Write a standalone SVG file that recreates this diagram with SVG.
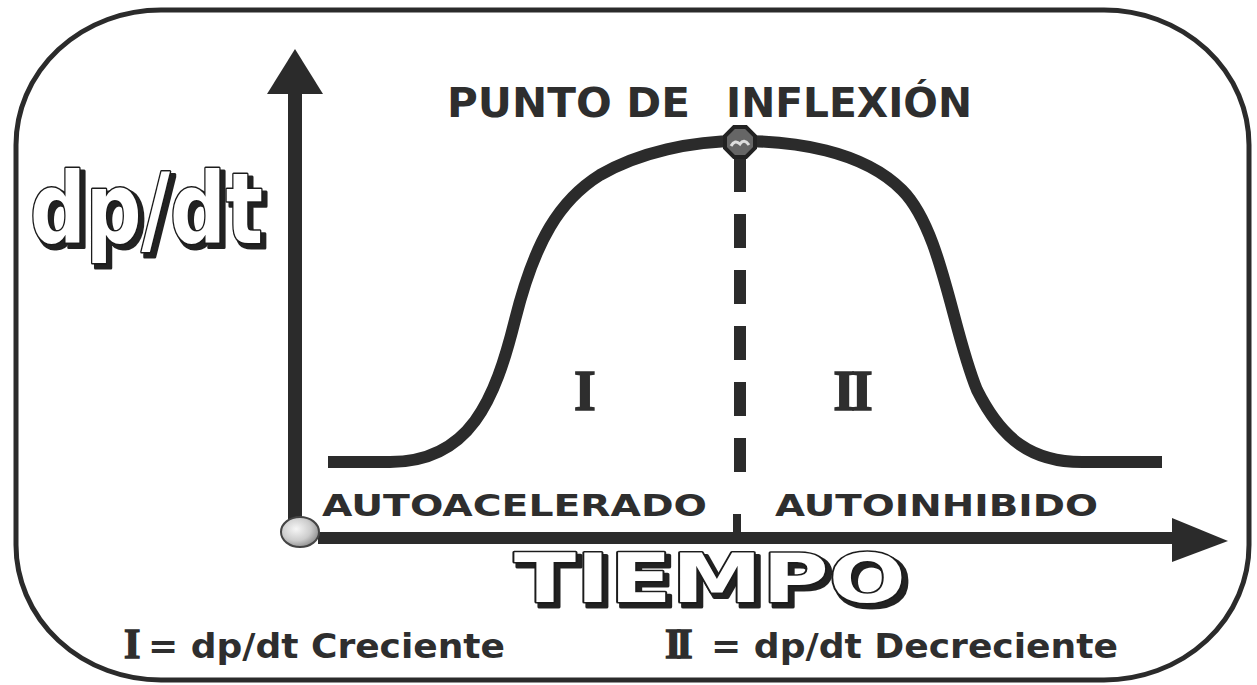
<svg xmlns="http://www.w3.org/2000/svg" width="1257" height="685" viewBox="0 0 1257 685">
<defs>
<style>
.ink{fill:#2b2b2b}
.line{stroke:#2b2b2b;fill:none}
.lbl{font-family:"DejaVu Sans",Verdana,sans-serif;font-weight:bold;fill:#2e2e2e}
.roman{font-family:"Liberation Serif","DejaVu Serif",serif;font-weight:bold;fill:#2e2e2e;stroke:#2e2e2e;stroke-width:1.5}
.big{font-family:"DejaVu Sans Condensed","Liberation Sans",sans-serif;font-weight:bold}
.wide{font-family:"DejaVu Sans","Liberation Sans",sans-serif;font-weight:bold}
.outl{fill:#fff;stroke:#1a1a1a;stroke-width:3;stroke-linejoin:round;paint-order:stroke;filter:url(#shadow)}
</style>
<filter id="shadow" x="-10%" y="-10%" width="130%" height="140%">
<feOffset in="SourceAlpha" dx="4" dy="4" result="off"/>
<feMorphology in="off" operator="dilate" radius="1" result="dil"/>
<feFlood flood-color="#222"/>
<feComposite in2="dil" operator="in" result="sh"/>
<feMerge><feMergeNode in="sh"/><feMergeNode in="SourceGraphic"/></feMerge>
</filter>
<radialGradient id="ball" cx="40%" cy="40%" r="65%">
<stop offset="0" stop-color="#f6f6f6"/>
<stop offset="0.6" stop-color="#cccccc"/>
<stop offset="1" stop-color="#8a8a8a"/>
</radialGradient>
</defs>
<rect width="1257" height="685" fill="#fff"/>
<g id="frame">
<rect x="16" y="10" width="1233" height="670" rx="145" ry="135" class="line" stroke-width="5"/>
</g>
<g id="connectors">
<line x1="295" y1="90" x2="295" y2="520" class="line" stroke-width="14"/>
<polygon points="295,49 267,94 323,94" class="ink"/>
<line x1="318" y1="538" x2="1176" y2="538" class="line" stroke-width="12"/>
<polygon points="1228,541 1172,518 1172,562" class="ink"/>
<line x1="740" y1="158" x2="740" y2="472" class="line" stroke-width="12" stroke-dasharray="34 22"/>
<line x1="737" y1="514" x2="737" y2="537" class="line" stroke-width="8"/>
</g>
<g id="curve">
<path d="M328,462 L390,462 C470,462 495,400 515,320 C535,240 560,200 600,175 C640,152 692,141 740,141 C793,141 862,150 902,190 C942,230 952,330 977,390 C1002,440 1032,462 1082,462 L1162,462" class="line" stroke-width="12"/>
</g>
<g id="origin">
<ellipse cx="300" cy="532" rx="19" ry="15" fill="url(#ball)" stroke="#444" stroke-width="2"/>
</g>
<g id="inflection-point">
<polygon points="734,127 746,127 755,136 755,148 746,157 734,157 725,148 725,136" fill="#666" stroke="#222" stroke-width="4"/>
<path d="M731,146 q4,-7 9,-2 q4,-6 9,1" fill="none" stroke="#ddd" stroke-width="3"/>
<text x="447" y="117" class="lbl" font-size="40" textLength="243" lengthAdjust="spacingAndGlyphs">PUNTO DE</text>
<text x="726" y="117" class="lbl" font-size="40" textLength="246" lengthAdjust="spacingAndGlyphs">INFLEXIÓN</text>
</g>
<g id="y-label">
<text x="30" y="243" class="big outl" font-size="98" textLength="233" lengthAdjust="spacingAndGlyphs">dp/dt</text>
</g>
<g id="x-label">
<text x="514" y="602" class="wide outl" font-size="68" textLength="392" lengthAdjust="spacingAndGlyphs">TIEMPO</text>
</g>
<g id="region-I">
<text x="585" y="410" class="roman" font-size="56" text-anchor="middle">I</text>
<text x="322" y="516" class="lbl" font-size="31" textLength="385" lengthAdjust="spacingAndGlyphs">AUTOACELERADO</text>
</g>
<g id="region-II">
<text x="851" y="410" class="roman" font-size="56" text-anchor="middle" letter-spacing="-4">II</text>
<text x="775" y="516" class="lbl" font-size="31" textLength="323" lengthAdjust="spacingAndGlyphs">AUTOINHIBIDO</text>
</g>
<g id="legend-I">
<text x="124" y="658" class="roman" font-size="42">I</text>
<text x="148" y="658" class="lbl" font-size="34" textLength="357" lengthAdjust="spacingAndGlyphs">= dp/dt Creciente</text>
</g>
<g id="legend-II">
<text x="665" y="658" class="roman" font-size="42" letter-spacing="-5">II</text>
<text x="711" y="658" class="lbl" font-size="34" textLength="407" lengthAdjust="spacingAndGlyphs">= dp/dt Decreciente</text>
</g>
</svg>
